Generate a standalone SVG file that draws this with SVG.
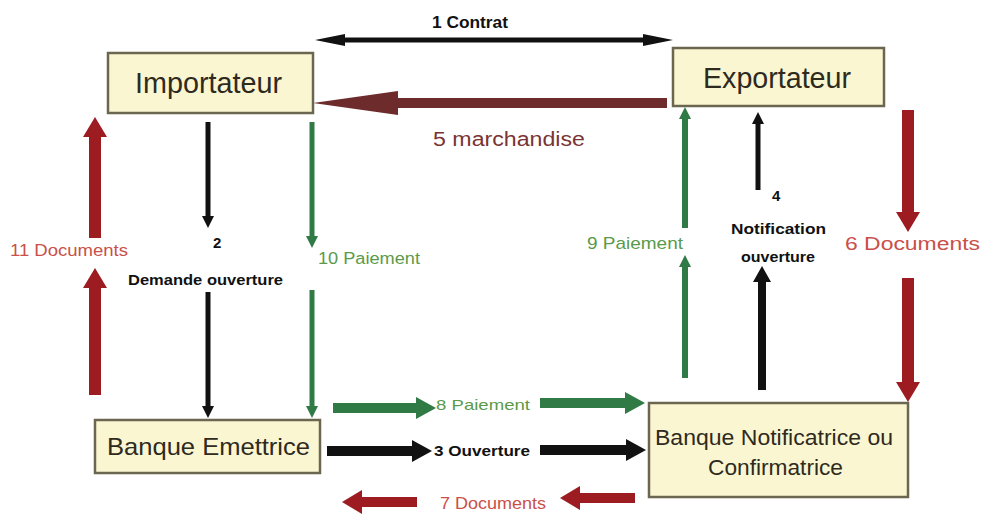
<svg xmlns="http://www.w3.org/2000/svg" width="983" height="517" viewBox="0 0 983 517">
<style>
.box{fill:#fbf6d2;stroke:#6b6650;stroke-width:2.5}
.nt{font-family:"Liberation Sans",Arial,sans-serif;fill:#2e2a20}
.lb{font-family:"Liberation Sans",Arial,sans-serif}
.blk{stroke:#111;fill:none}
.grn{stroke:#2f7a45;fill:none}
.red{stroke:#9c1c22;fill:none}
.mar{stroke:#6d2b2b;fill:none}
.tr{fill:#c8504a}
.tg{fill:#5a9a48}
.tk{fill:#111;font-weight:bold}
</style>
<defs>
<marker id="hbT" markerUnits="userSpaceOnUse" viewBox="0 0 12 12" markerWidth="12" markerHeight="12" refX="0" refY="6" orient="auto"><path d="M0,0 L12,6 L0,12 z" fill="#111"/></marker>
<marker id="hbM" markerUnits="userSpaceOnUse" viewBox="0 0 16 18" markerWidth="16" markerHeight="18" refX="0" refY="9" orient="auto"><path d="M0,0 L16,9 L0,18 z" fill="#111"/></marker>
<marker id="hbK" markerUnits="userSpaceOnUse" viewBox="0 0 20 22" markerWidth="20" markerHeight="22" refX="0" refY="11" orient="auto"><path d="M0,0 L20,11 L0,22 z" fill="#111"/></marker>
<marker id="hbC" markerUnits="userSpaceOnUse" viewBox="0 0 30 12" markerWidth="30" markerHeight="12" refX="0" refY="6" orient="auto-start-reverse"><path d="M0,0 L30,6 L0,12 z" fill="#111"/></marker>
<marker id="hgT" markerUnits="userSpaceOnUse" viewBox="0 0 12 12" markerWidth="12" markerHeight="12" refX="0" refY="6" orient="auto"><path d="M0,0 L12,6 L0,12 z" fill="#2f7a45"/></marker>
<marker id="hgK" markerUnits="userSpaceOnUse" viewBox="0 0 20 22" markerWidth="20" markerHeight="22" refX="0" refY="11" orient="auto"><path d="M0,0 L20,11 L0,22 z" fill="#2f7a45"/></marker>
<marker id="hrK" markerUnits="userSpaceOnUse" viewBox="0 0 20 24" markerWidth="20" markerHeight="24" refX="0" refY="12" orient="auto"><path d="M0,0 L20,12 L0,24 z" fill="#9c1c22"/></marker>
<marker id="hmL" markerUnits="userSpaceOnUse" viewBox="0 0 85 24" markerWidth="85" markerHeight="24" refX="0" refY="12" orient="auto"><path d="M0,0 L85,12 L0,24 z" fill="#6d2b2b"/></marker>
</defs>
<rect width="983" height="517" fill="#ffffff"/>
<g id="connectors">
<line class="blk" stroke-width="5" x1="345" y1="40" x2="643" y2="40" marker-start="url(#hbC)" marker-end="url(#hbC)"/>
<line class="mar" stroke-width="10" x1="667" y1="103" x2="398" y2="103" marker-end="url(#hmL)"/>
<line class="red" stroke-width="12" x1="95" y1="238" x2="95" y2="137" marker-end="url(#hrK)"/>
<line class="red" stroke-width="12" x1="95" y1="395" x2="95" y2="288" marker-end="url(#hrK)"/>
<line class="blk" stroke-width="5" x1="208" y1="122" x2="208" y2="216" marker-end="url(#hbT)"/>
<line class="blk" stroke-width="5" x1="208" y1="292" x2="208" y2="406" marker-end="url(#hbT)"/>
<line class="grn" stroke-width="5" x1="312" y1="122" x2="312" y2="236" marker-end="url(#hgT)"/>
<line class="grn" stroke-width="5" x1="312" y1="290" x2="312" y2="406" marker-end="url(#hgT)"/>
<line class="grn" stroke-width="6" x1="685" y1="228" x2="685" y2="119" marker-end="url(#hgT)"/>
<line class="grn" stroke-width="6" x1="685" y1="378" x2="685" y2="267" marker-end="url(#hgT)"/>
<line class="blk" stroke-width="5" x1="758" y1="190" x2="758" y2="124" marker-end="url(#hbT)"/>
<line class="blk" stroke-width="8" x1="762" y1="390" x2="762" y2="282" marker-end="url(#hbM)"/>
<line class="red" stroke-width="12" x1="908" y1="110" x2="908" y2="212" marker-end="url(#hrK)"/>
<line class="red" stroke-width="12" x1="908" y1="278" x2="908" y2="382" marker-end="url(#hrK)"/>
<line class="grn" stroke-width="10" x1="333" y1="408" x2="416" y2="408" marker-end="url(#hgK)"/>
<line class="grn" stroke-width="10" x1="540" y1="403" x2="625" y2="403" marker-end="url(#hgK)"/>
<line class="blk" stroke-width="10" x1="327" y1="451" x2="412" y2="451" marker-end="url(#hbK)"/>
<line class="blk" stroke-width="10" x1="540" y1="450" x2="626" y2="450" marker-end="url(#hbK)"/>
<line class="red" stroke-width="10" x1="417" y1="502" x2="362" y2="502" marker-end="url(#hrK)"/>
<line class="red" stroke-width="10" x1="635" y1="498" x2="580" y2="498" marker-end="url(#hrK)"/>
</g>
<g id="labels">
<text class="lb tk" x="432" y="28" font-size="17" textLength="76" lengthAdjust="spacingAndGlyphs">1 Contrat</text>
<text class="lb" x="433" y="146" font-size="20" fill="#7a3434" textLength="152" lengthAdjust="spacingAndGlyphs">5 marchandise</text>
<text class="lb tr" x="10" y="256" font-size="16" textLength="118" lengthAdjust="spacingAndGlyphs">11 Documents</text>
<text class="lb tk" x="213" y="248" font-size="15" font-weight="normal">2</text>
<text class="lb tk" x="128" y="285" font-size="14" textLength="155" lengthAdjust="spacingAndGlyphs">Demande ouverture</text>
<text class="lb tg" x="318" y="264" font-size="16" textLength="102" lengthAdjust="spacingAndGlyphs">10 Paiement</text>
<text class="lb tg" x="587" y="249" font-size="17" textLength="96" lengthAdjust="spacingAndGlyphs">9 Paiement</text>
<text class="lb tk" x="772" y="201" font-size="15" font-weight="normal">4</text>
<text class="lb tk" x="731" y="234" font-size="14" textLength="95" lengthAdjust="spacingAndGlyphs">Notification</text>
<text class="lb tk" x="741" y="262" font-size="14" textLength="74" lengthAdjust="spacingAndGlyphs">ouverture</text>
<text class="lb tr" x="845" y="250" font-size="18" textLength="135" lengthAdjust="spacingAndGlyphs">6 Documents</text>
<text class="lb tg" x="436" y="410" font-size="15" textLength="94" lengthAdjust="spacingAndGlyphs">8 Paiement</text>
<text class="lb tk" x="434" y="456" font-size="15" textLength="96" lengthAdjust="spacingAndGlyphs">3 Ouverture</text>
<text class="lb tr" x="440" y="509" font-size="16" textLength="106" lengthAdjust="spacingAndGlyphs">7 Documents</text>
</g>
<g id="importateur">
<rect class="box" x="108" y="53" width="205" height="60"/>
<text class="nt" x="135" y="93" font-size="29" textLength="147" lengthAdjust="spacingAndGlyphs">Importateur</text>
</g>
<g id="exportateur">
<rect class="box" x="673" y="48" width="211" height="58"/>
<text class="nt" x="703" y="88" font-size="29" textLength="148" lengthAdjust="spacingAndGlyphs">Exportateur</text>
</g>
<g id="banque-emettrice">
<rect class="box" x="95" y="420" width="225" height="53"/>
<text class="nt" x="107" y="455" font-size="24" textLength="203" lengthAdjust="spacingAndGlyphs">Banque Emettrice</text>
</g>
<g id="banque-notificatrice">
<rect class="box" x="649" y="403" width="259" height="94"/>
<text class="nt" x="655" y="445" font-size="22" textLength="238" lengthAdjust="spacingAndGlyphs">Banque Notificatrice ou</text>
<text class="nt" x="708" y="475" font-size="22" textLength="135" lengthAdjust="spacingAndGlyphs">Confirmatrice</text>
</g>
</svg>
